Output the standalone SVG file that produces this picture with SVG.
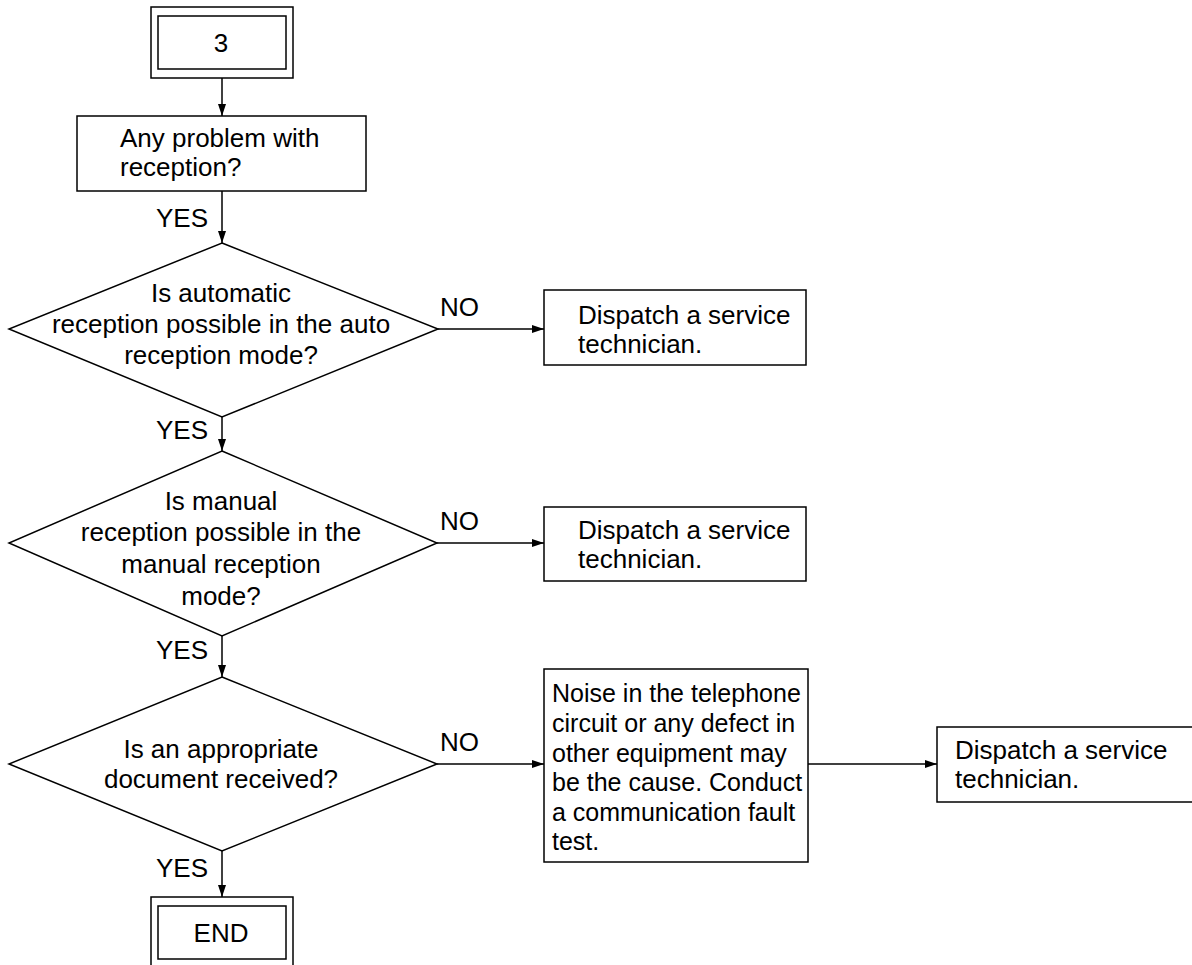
<svg xmlns="http://www.w3.org/2000/svg" width="1192" height="965" viewBox="0 0 1192 965">
<style>
.s{fill:#fff;stroke:#000;stroke-width:1.5}
.t{font-family:"Liberation Sans",Arial,Helvetica,sans-serif;font-size:26px;fill:#000}
.n{font-size:25px}
.m{text-anchor:middle}
.e{text-anchor:end}
.c{fill:none;stroke:#000;stroke-width:1.5}
</style>
<defs>
<marker id="ah" markerUnits="userSpaceOnUse" markerWidth="12" markerHeight="8" refX="12" refY="4" orient="auto">
<path d="M0,0 L12,4 L0,8 z" fill="#000"/>
</marker>
</defs>
<rect width="1192" height="965" fill="#fff"/>
<g id="connectors">
<line class="c" x1="222" y1="78" x2="222" y2="116" marker-end="url(#ah)"/>
<line class="c" x1="222" y1="191" x2="222" y2="243" marker-end="url(#ah)"/>
<line class="c" x1="222" y1="417" x2="222" y2="451" marker-end="url(#ah)"/>
<line class="c" x1="222" y1="636" x2="222" y2="677" marker-end="url(#ah)"/>
<line class="c" x1="222" y1="851" x2="222" y2="897" marker-end="url(#ah)"/>
<line class="c" x1="438" y1="329" x2="544" y2="329" marker-end="url(#ah)"/>
<line class="c" x1="437" y1="543" x2="544" y2="543" marker-end="url(#ah)"/>
<line class="c" x1="437" y1="764" x2="544" y2="764" marker-end="url(#ah)"/>
<line class="c" x1="808" y1="764" x2="937" y2="764" marker-end="url(#ah)"/>
<text class="t e" x="208" y="227">YES</text>
<text class="t e" x="208" y="439">YES</text>
<text class="t e" x="208" y="659">YES</text>
<text class="t e" x="208" y="877">YES</text>
<text class="t" x="440" y="316">NO</text>
<text class="t" x="440" y="530">NO</text>
<text class="t" x="440" y="751">NO</text>
</g>
<g id="start">
<rect class="s" x="151" y="7" width="142" height="71"/>
<rect class="s" x="158" y="16" width="128" height="53"/>
<text class="t m" x="221" y="52">3</text>
</g>
<g id="q0">
<rect class="s" x="77" y="116" width="289" height="75"/>
<text class="t" x="120" y="147">Any problem with</text>
<text class="t" x="120" y="176">reception?</text>
</g>
<g id="d1">
<polygon class="s" points="222,243 438,329 222,417 9,329"/>
<text class="t m" x="221" y="302">Is automatic</text>
<text class="t m" x="221" y="333">reception possible in the auto</text>
<text class="t m" x="221" y="364">reception mode?</text>
</g>
<g id="b1">
<rect class="s" x="544" y="290" width="262" height="75"/>
<text class="t" x="578" y="324">Dispatch a service</text>
<text class="t" x="578" y="353">technician.</text>
</g>
<g id="d2">
<polygon class="s" points="222,451 437,543 222,636 9,543"/>
<text class="t m" x="221" y="510">Is manual</text>
<text class="t m" x="221" y="541">reception possible in the</text>
<text class="t m" x="221" y="573">manual reception</text>
<text class="t m" x="221" y="605">mode?</text>
</g>
<g id="b2">
<rect class="s" x="544" y="507" width="262" height="74"/>
<text class="t" x="578" y="539">Dispatch a service</text>
<text class="t" x="578" y="568">technician.</text>
</g>
<g id="d3">
<polygon class="s" points="222,677 437,764 222,851 9,764"/>
<text class="t m" x="221" y="758">Is an appropriate</text>
<text class="t m" x="221" y="788">document received?</text>
</g>
<g id="b3">
<rect class="s" x="544" y="669" width="264" height="193"/>
<text class="t n" x="552" y="702">Noise in the telephone</text>
<text class="t n" x="552" y="732">circuit or any defect in</text>
<text class="t n" x="552" y="762">other equipment may</text>
<text class="t n" x="552" y="791">be the cause. Conduct</text>
<text class="t n" x="552" y="821">a communication fault</text>
<text class="t n" x="552" y="850">test.</text>
</g>
<g id="b4">
<rect class="s" x="937" y="727" width="270" height="75"/>
<text class="t" x="955" y="759">Dispatch a service</text>
<text class="t" x="955" y="788">technician.</text>
</g>
<g id="end">
<rect class="s" x="151" y="897" width="142" height="71"/>
<rect class="s" x="158" y="906" width="128" height="53"/>
<text class="t m" x="221" y="942">END</text>
</g>
</svg>
